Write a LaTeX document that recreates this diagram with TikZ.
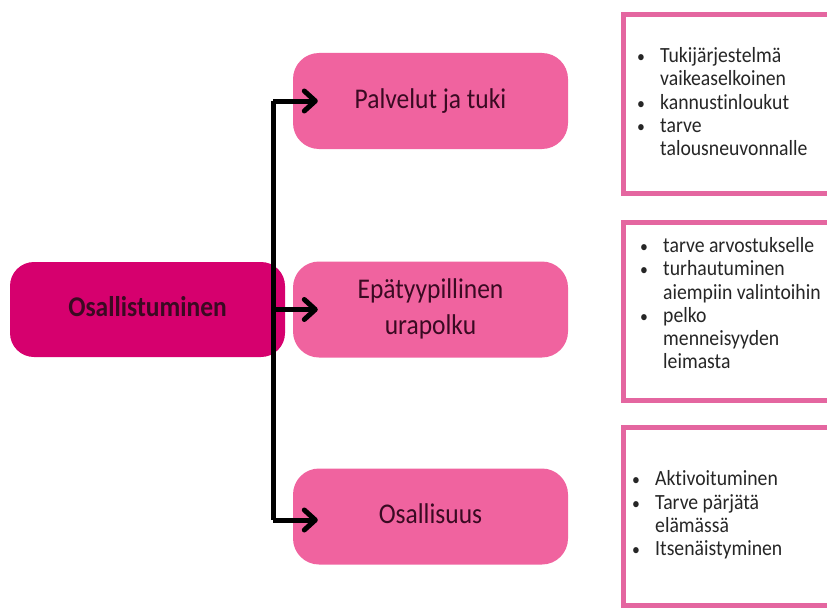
\documentclass[tikz,border=0pt]{standalone}
\usepackage{fontspec}
\usepackage{graphicx}
\setmainfont{Carlito}[Ligatures=NoCommon]
\usetikzlibrary{arrows.meta}
\definecolor{mainc}{HTML}{D6006E}
\definecolor{childc}{HTML}{F0639F}
\definecolor{framec}{HTML}{E466A0}
\definecolor{txtc}{HTML}{3A0A22}
\newcommand{\blt}{\makebox[24pt][l]{\hspace{1pt}\scalebox{0.8}{\textbullet}}}
\newcommand{\ys}[1]{\scalebox{1}[1.12]{\begin{tabular}{@{}c@{}}#1\end{tabular}}}
\newcommand{\yl}[1]{\scalebox{1}[1.1]{\begin{tabular}{@{}l@{}}#1\end{tabular}}}
\begin{document}
\begin{tikzpicture}[x=1pt,y=-1pt,
  mainbox/.style={fill=mainc, rounded corners=24pt, minimum width=275pt, minimum height=95pt, text=txtc, font=\fontsize{25.5}{32}\selectfont\bfseries, inner sep=0pt},
  childbox/.style={fill=childc, rounded corners=26pt, minimum width=275pt, minimum height=96pt, text=txtc, font=\fontsize{25.5}{32}\selectfont, align=center, inner sep=0pt},
  framebox/.style={draw=framec, line width=5pt, fill=white, inner sep=0pt, anchor=north west},
  listtext/.style={anchor=west, inner sep=0pt, text=black!85, font=\fontsize{19.7}{21.2}\selectfont},
  conn/.style={line width=5pt, black},
  arr/.style={conn, -{Straight Barb[length=11pt,width=20pt,round]}}
]
\useasboundingbox (0,0) rectangle (827,610);
\clip (0,0) rectangle (827,610);
% frames
\node[framebox, minimum width=240pt, minimum height=178pt] (f1) at (620.5,12.5) {};
\node[framebox, minimum width=240pt, minimum height=178pt] (f2) at (620.5,219.5) {};
\node[framebox, minimum width=240pt, minimum height=178pt] (f3) at (620.5,424.5) {};
\node[listtext] (t1) at (636,104.5) {\yl{%
\blt Tukijärjestelmä\\
\hspace*{24pt}vaikeaselkoinen\\
\blt kannustinloukut\\
\blt tarve\\
\hspace*{24pt}talousneuvonnalle}};
\node[listtext] (t2) at (639,306) {\yl{%
\blt tarve arvostukselle\\
\blt turhautuminen\\
\hspace*{24pt}aiempiin valintoihin\\
\blt pelko\\
\hspace*{24pt}menneisyyden\\
\hspace*{24pt}leimasta}};
\node[listtext] (t3) at (631,516) {\yl{%
\blt Aktivoituminen\\
\blt Tarve pärjätä\\
\hspace*{24pt}elämässä\\
\blt Itsenäistyminen}};
% boxes
\node[mainbox] (main) at (147.5,309.5) {\ys{Osallistuminen}};
\node[childbox] (pal) at (430.5,101) {\ys{Palvelut ja tuki}};
\node[childbox] (epa) at (430.5,309.5) {\ys{Epätyypillinen\\urapolku}};
\node[childbox] (osa) at (430.5,516.5) {\ys{Osallisuus}};
% connectors
\coordinate (top) at (273,101);
\coordinate (bot) at (273,520);
\draw[conn] (top) -- (bot);
\draw[arr] (top) -- ([xshift=25pt]pal.west);
\draw[arr] (main.east -| top) -- ([xshift=25pt]epa.west);
\draw[arr] (bot) -- ([xshift=25pt]bot -| osa.west);
\end{tikzpicture}
\end{document}
